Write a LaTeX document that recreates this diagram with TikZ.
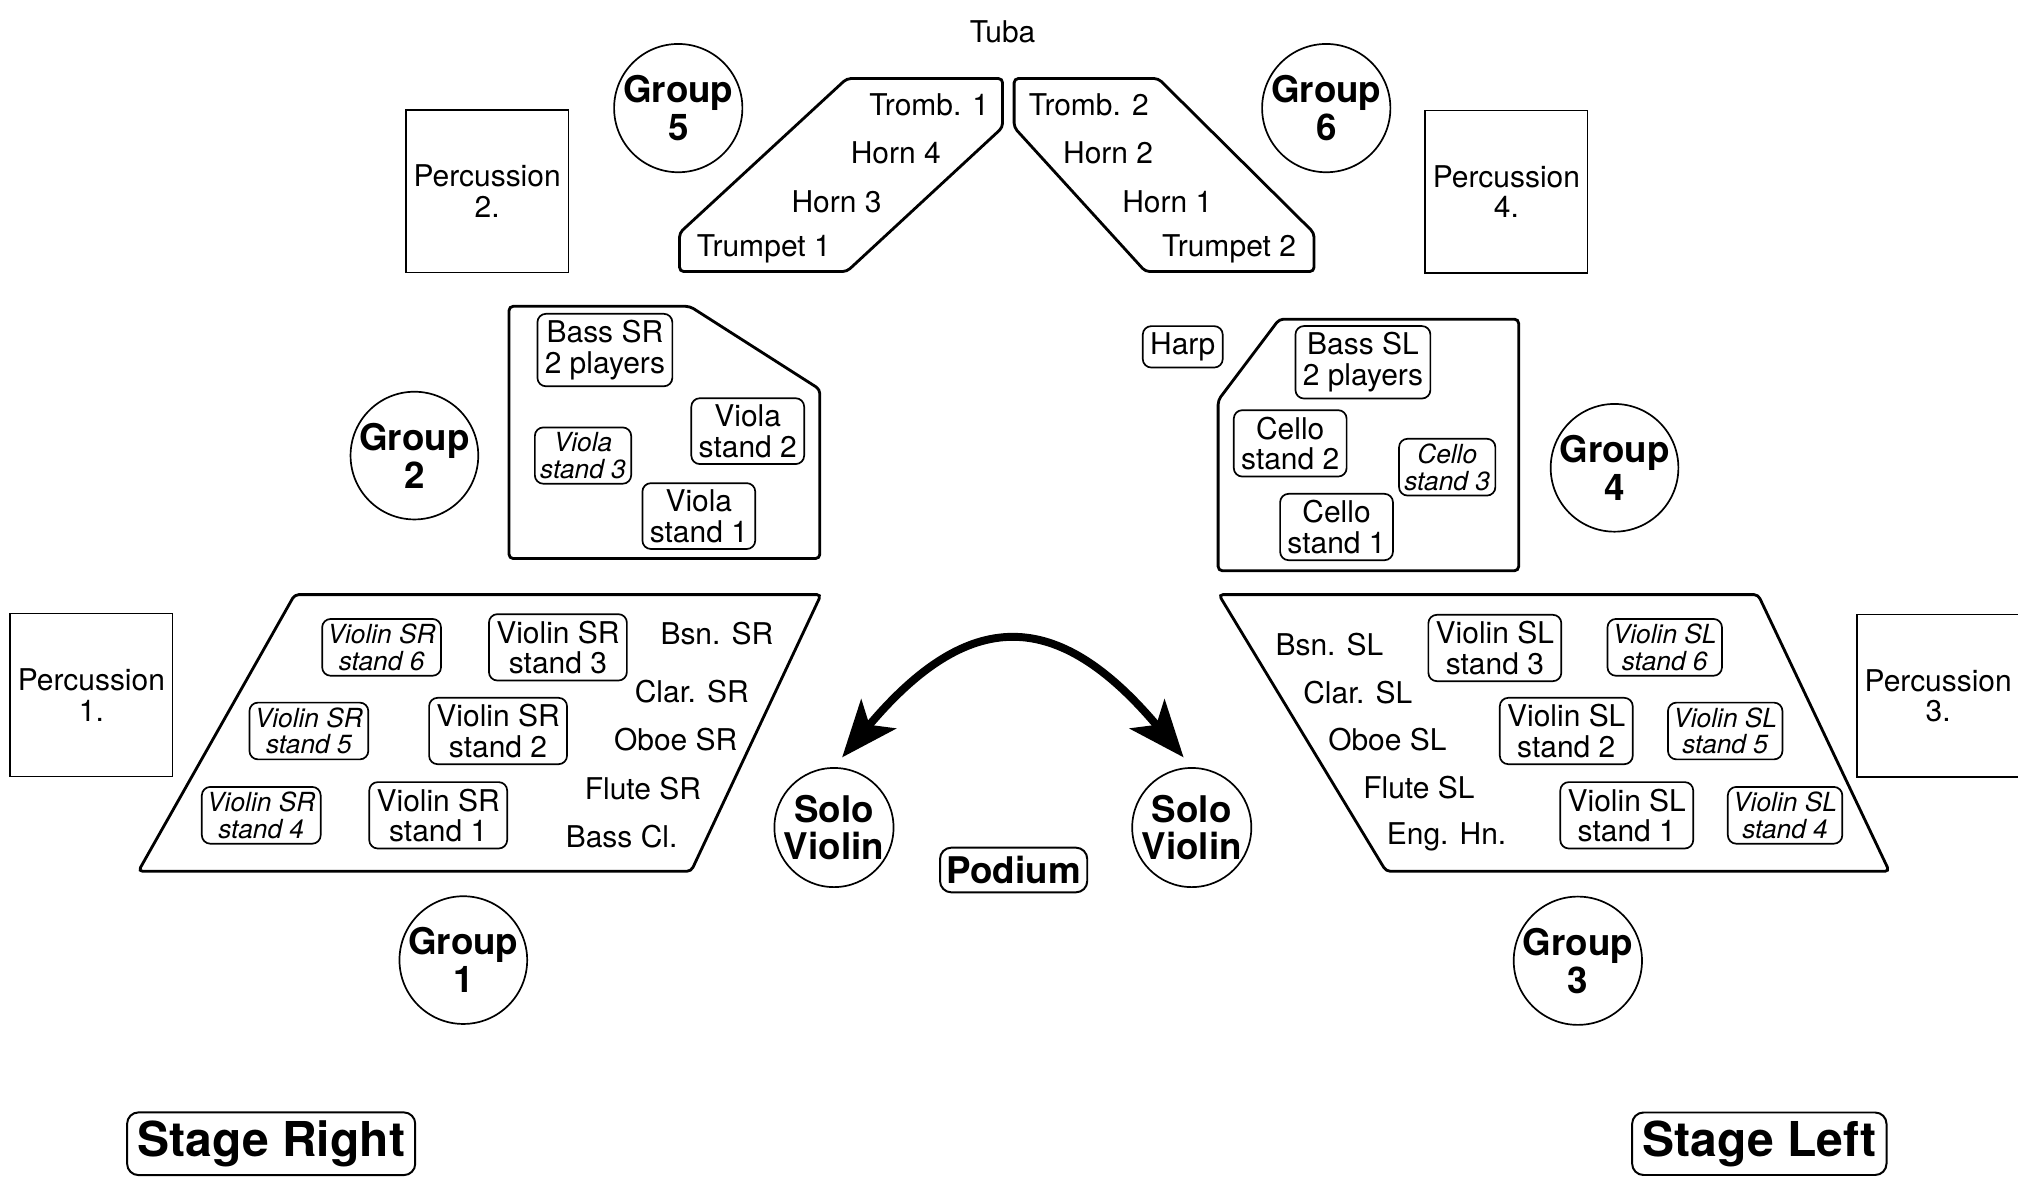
\documentclass[tikz,border=0pt]{standalone}
\usepackage{fontspec}
\setmainfont{TeX Gyre Heros}
\usetikzlibrary{arrows.meta}

\newcommand{\fnorm}{\fontsize{10.6}{10.8}\selectfont}
\newcommand{\fital}{\fontsize{9.3}{9.4}\selectfont\itshape}
\newcommand{\fgroup}{\fontsize{13}{13.4}\selectfont\bfseries}
\newcommand{\fstage}{\fontsize{17}{17}\selectfont\bfseries}

\tikzset{
  lbl/.style={font=\fnorm},
  stand/.style={draw, line width=0.6pt, rounded corners=3pt, align=center, inner xsep=2.6pt, inner ysep=2.3pt, font=\fnorm},
  standit/.style={stand, inner xsep=1.9pt, inner ysep=1.8pt, font=\fital},
  grp/.style={draw, circle, line width=0.6pt, minimum size=1.584cm, inner sep=0pt, align=center, font=\fgroup},
  solo/.style={grp, minimum size=1.456cm},
  perc/.style={draw, line width=0.5pt, minimum width=2.02cm, minimum height=2.02cm, inner sep=0pt, align=center, font=\fnorm},
  block/.style={draw, line width=1pt, rounded corners=1.5pt},
  stage/.style={draw, line width=0.7pt, rounded corners=4pt, inner xsep=3.6pt, inner ysep=2.9pt, font=\fstage},
  swap head/.style={line width=2.8pt, {Stealth[length=20pt, width=16pt, inset=5pt]}-{Stealth[length=20pt, width=16pt, inset=5pt]}}
}

\begin{document}
\begin{tikzpicture}[x=1.6cm, y=1.6cm]

        \path[use as bounding box] (0, 0) rectangle (15.68, -9.15);
        \clip (0, 0) rectangle (15.68, -9.15);

        \node[lbl] (tuba) at (7.79, -0.25) {Tuba};

        % brass
        \draw[block] (6.58, -0.61) -- (7.79, -0.61) -- (7.79, -0.99) -- (6.58, -2.11) -- (5.28, -2.11) -- (5.28, -1.81) -- cycle;
        \draw[block] (7.88, -0.61) -- (9.00, -0.61) -- (10.21, -1.81) -- (10.21, -2.11) -- (8.90, -2.11) -- (7.88, -0.99) -- cycle;
        \node[lbl] (tromb1) at (7.22, -0.815) {Tromb. 1};
        \node[lbl] (horn4) at (6.96, -1.19) {Horn 4};
        \node[lbl] (horn3) at (6.50, -1.57) {Horn 3};
        \node[lbl] (trp1) at (5.935, -1.93) {Trumpet 1};
        \node[lbl] (tromb2) at (8.46, -0.815) {Tromb. 2};
        \node[lbl] (horn2) at (8.61, -1.19) {Horn 2};
        \node[lbl] (horn1) at (9.07, -1.57) {Horn 1};
        \node[lbl] (trp2) at (9.55, -1.93) {Trumpet 2};

        \foreach \n/\x/\y in {1/3.60/7.46, 2/3.22/3.54, 3/12.26/7.465, 4/12.545/3.635, 5/5.27/0.84, 6/10.305/0.84}
            \node[grp] (g\n) at (\x, -\y) {Group\\\n};

        \foreach \n/\x/\y in {1/0.71/5.40, 2/3.785/1.485, 3/15.06/5.405, 4/11.705/1.49}
            \node[perc] (perc\n) at (\x, -\y) {Percussion\\\n.};

        % violas and basses SR
        \draw[block] (3.955, -2.38) -- (5.36, -2.38) -- (6.37, -3.025) -- (6.37, -4.34) -- (3.955, -4.34) -- cycle;
        \node[stand] (bassSR) at (4.70, -2.72) {Bass SR\\2 players};
        \node[standit] (viola3) at (4.53, -3.54) {Viola\\stand 3};
        \node[stand] (viola2) at (5.81, -3.35) {Viola\\stand 2};
        \node[stand] (viola1) at (5.43, -4.01) {Viola\\stand 1};

        % cellos and basses SL
        \draw[block] (9.94, -2.48) -- (11.80, -2.48) -- (11.80, -4.435) -- (9.465, -4.435) -- (9.465, -3.11) -- cycle;
        \node[stand] (harp) at (9.19, -2.695) {Harp};
        \node[stand] (bassSL) at (10.59, -2.815) {Bass SL\\2 players};
        \node[stand] (cello2) at (10.025, -3.445) {Cello\\stand 2};
        \node[standit] (cello3) at (11.245, -3.63) {Cello\\stand 3};
        \node[stand] (cello1) at (10.385, -4.095) {Cello\\stand 1};

        % violins SR and winds
        \draw[block] (2.29, -4.62) -- (6.38, -4.62) -- (5.37, -6.77) -- (1.075, -6.77) -- cycle;
        \node[standit] (vSR6) at (2.965, -5.03) {Violin SR\\stand 6};
        \node[stand] (vSR3) at (4.335, -5.03) {Violin SR\\stand 3};
        \node[standit] (vSR5) at (2.40, -5.68) {Violin SR\\stand 5};
        \node[stand] (vSR2) at (3.87, -5.68) {Violin SR\\stand 2};
        \node[standit] (vSR4) at (2.03, -6.335) {Violin SR\\stand 4};
        \node[stand] (vSR1) at (3.405, -6.335) {Violin SR\\stand 1};
        \node[lbl] (bsnSR) at (5.57, -4.92) {Bsn. SR};
        \node[lbl] (clarSR) at (5.375, -5.375) {Clar. SR};
        \node[lbl] (oboeSR) at (5.25, -5.75) {Oboe SR};
        \node[lbl] (fluteSR) at (4.995, -6.125) {Flute SR};
        \node[lbl] (basscl) at (4.83, -6.50) {Bass Cl.};

        % violins SL and winds
        \draw[block] (9.47, -4.62) -- (13.66, -4.62) -- (14.68, -6.77) -- (10.77, -6.77) -- cycle;
        \node[stand] (vSL3) at (11.615, -5.035) {Violin SL\\stand 3};
        \node[standit] (vSL6) at (12.935, -5.03) {Violin SL\\stand 6};
        \node[stand] (vSL2) at (12.17, -5.68) {Violin SL\\stand 2};
        \node[standit] (vSL5) at (13.405, -5.68) {Violin SL\\stand 5};
        \node[stand] (vSL1) at (12.64, -6.335) {Violin SL\\stand 1};
        \node[standit] (vSL4) at (13.87, -6.335) {Violin SL\\stand 4};
        \node[lbl] (bsnSL) at (10.33, -5.01) {Bsn. SL};
        \node[lbl] (clarSL) at (10.55, -5.385) {Clar. SL};
        \node[lbl] (oboeSL) at (10.78, -5.75) {Oboe SL};
        \node[lbl] (fluteSL) at (11.025, -6.12) {Flute SL};
        \node[lbl] (englhn) at (11.24, -6.50) {Eng. Hn.};

        \node[solo] (soloL) at (6.48, -6.43) {Solo\\Violin};
        \node[solo] (soloR) at (9.26, -6.43) {Solo\\Violin};
        \node[stage, font=\fgroup, inner xsep=2.3pt, inner ysep=3pt] (podium) at (7.876, -6.76) {Podium};

        \draw[swap head, shorten <=4.5pt, shorten >=4.5pt]
            (soloL.north) to[out=50, in=130, looseness=1.5] (soloR.north);

        \node[stage] (stageR) at (2.107, -8.887) {Stage Right};
        \node[stage] (stageL) at (13.67, -8.887) {Stage Left};
    \end{tikzpicture}
\end{document}
